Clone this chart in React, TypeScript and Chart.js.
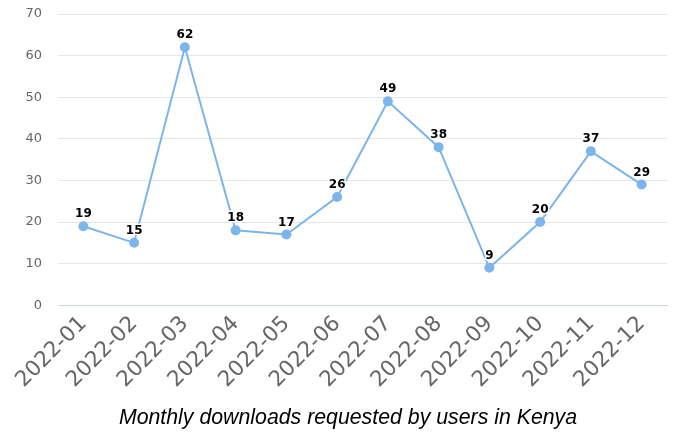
import React, { useEffect, useRef } from "react";
import { Chart, registerables } from "chart.js";

Chart.register(...registerables);

const categories = ["2022-01", "2022-02", "2022-03", "2022-04", "2022-05", "2022-06", "2022-07", "2022-08", "2022-09", "2022-10", "2022-11", "2022-12"];
const downloads = [19, 15, 62, 18, 17, 26, 49, 38, 9, 20, 37, 29];
const titleText = "Monthly downloads requested by users in Kenya";

const dataLabels = {
  id: "dataLabels",
  afterDatasetsDraw(chart: any) {
    const ctx = chart.ctx;
    const meta = chart.getDatasetMeta(0);
    const ds = chart.data.datasets[0];
    ctx.save();
    ctx.font = "bold 12px 'DejaVu Sans'";
    ctx.fillStyle = "#000";
    ctx.textAlign = "center";
    ctx.textBaseline = "middle";
    ctx.lineWidth = 3;
    ctx.strokeStyle = "#fff";
    ctx.lineJoin = "round";
    meta.data.forEach((pt: any, i: number) => {
      const t = String(ds.data[i]);
      ctx.strokeText(t, pt.x, pt.y - 12);
      ctx.fillText(t, pt.x, pt.y - 12);
    });
    ctx.restore();
  },
};

const bottomTitle = {
  id: "bottomTitle",
  afterDraw(chart: any) {
    const ctx = chart.ctx;
    ctx.save();
    ctx.font = "italic 21.3px 'Liberation Sans', Arial, sans-serif";
    ctx.fillStyle = "#000";
    ctx.textAlign = "center";
    ctx.textBaseline = "middle";
    ctx.fillText(titleText, 348, 418);
    ctx.restore();
  },
};

export default function App() {
  const ref = useRef<HTMLCanvasElement>(null);
  useEffect(() => {
    if (!ref.current) return;
    const chart = new Chart(ref.current, {
      type: "line",
      data: {
        labels: categories,
        datasets: [
          {
            data: downloads,
            borderColor: "#7cb5ec",
            backgroundColor: "#7cb5ec",
            borderWidth: 2,
            pointRadius: 4,
            pointHoverRadius: 4,
            tension: 0,
          },
        ],
      },
      options: {
        animation: false,
        responsive: true,
        maintainAspectRatio: false,
        layout: { padding: { left: 0, right: 2, top: 14, bottom: 33 } },
        plugins: {
          legend: { display: false },
          tooltip: { enabled: false },
          title: { display: false },
        },
        scales: {
          x: {
            offset: true,
            afterFit: (scale: any) => {
              scale.paddingRight = 0;
              scale.paddingLeft = 0;
            },
            grid: { display: false, drawTicks: false },
            border: { display: true, color: "#ccd6eb", width: 1 },
            ticks: {
              minRotation: 45,
              maxRotation: 45,
              color: "#666",
              padding: 6,
              font: { family: "'DejaVu Sans'", size: 21.5 },
            },
          },
          y: {
            min: 0,
            max: 70,
            afterFit: (scale: any) => {
              scale.width = 58;
            },
            ticks: {
              stepSize: 10,
              color: "#666",
              padding: 0,
              font: { family: "'DejaVu Sans'", size: 13 },
            },
            grid: { color: "#e6e6e6", drawTicks: true, tickLength: 16, tickColor: "rgba(0,0,0,0)" },
            border: { display: false },
          },
        },
      },
      plugins: [dataLabels, bottomTitle],
    });
    return () => chart.destroy();
  }, []);
  return (
    <div style={{ position: "absolute", left: 0, top: 0, width: 673, height: 432 }}>
      <canvas ref={ref} />
    </div>
  );
}
